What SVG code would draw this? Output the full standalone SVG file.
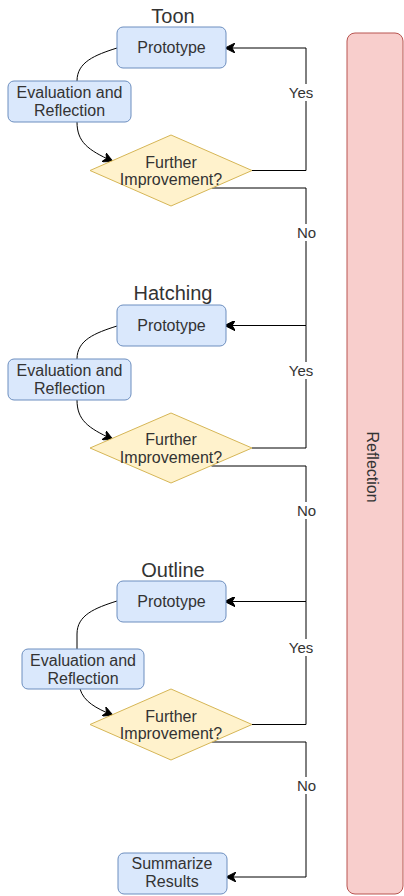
<svg xmlns="http://www.w3.org/2000/svg" width="404" height="896" viewBox="0 0 404 896">
  <style>
    .blue { fill: #dae8fc; stroke: #6c8ebf; stroke-width: 1; }
    .dec { fill: #fff2cc; stroke: #d6b656; stroke-width: 1; }
    .bar { fill: #f8cecc; stroke: #b85450; stroke-width: 1; }
    text { font-family: "Liberation Sans", Arial, sans-serif; fill: #333333; text-anchor: middle; }
    .t { font-size: 16px; }
    .title { font-size: 20px; }
    .lbl { font-size: 15px; }
    .edge { fill: none; stroke: #000000; stroke-width: 1; }
    .lblbg { fill: #ffffff; }
  </style>
  <defs>
    <marker id="arrow" viewBox="0 0 10 10" refX="9" refY="5" markerWidth="10" markerHeight="10" markerUnits="userSpaceOnUse" orient="auto">
      <path d="M0,0 L10,5 L0,10 L3,5 Z" fill="#000000" stroke="#000000" stroke-width="1"/>
    </marker>
  </defs>

  <!-- side bar -->
  <g id="reflection-bar">
    <rect class="bar" x="347" y="33" width="56" height="861" rx="8" ry="8"/>
    <text class="t" transform="translate(372,467) rotate(90)" y="5.5">Reflection</text>
  </g>

  <!-- section titles -->
  <g id="titles">
    <text class="title" x="173" y="23">Toon</text>
    <text class="title" x="173" y="300">Hatching</text>
    <text class="title" x="173" y="577">Outline</text>
  </g>

  <!-- connectors -->
  <g id="connectors">
    <!-- Toon -->
    <path class="edge" d="M117,48 C95,55 77,62 77,81"/>
    <path class="edge" d="M77,122 C77,142 88,150 112,161" marker-end="url(#arrow)"/>
    <path class="edge" d="M252,170.5 H306 V48 H226" marker-end="url(#arrow)"/>
    <path class="edge" d="M211.5,188 H306 V325.5 H226" marker-end="url(#arrow)"/>
    <!-- Hatching -->
    <path class="edge" d="M117,326 C95,333 77,340 77,359"/>
    <path class="edge" d="M77,400 C77,420 88,428 112,439" marker-end="url(#arrow)"/>
    <path class="edge" d="M252,448 H306 V325.5 H226" marker-end="url(#arrow)"/>
    <path class="edge" d="M211.5,466 H306 V601.5 H226" marker-end="url(#arrow)"/>
    <!-- Outline -->
    <path class="edge" d="M117,601 C95,608 77,615 77,634 V649"/>
    <path class="edge" d="M80,689 C84,702 96,708 112,715" marker-end="url(#arrow)"/>
    <path class="edge" d="M252,724.5 H306 V601.5 H226" marker-end="url(#arrow)"/>
    <path class="edge" d="M211.5,742 H306 V877 H227" marker-end="url(#arrow)"/>

    <!-- edge labels -->
    <rect class="lblbg" x="288" y="84" width="26" height="17"/>
    <text class="lbl" x="301" y="97.5">Yes</text>
    <rect class="lblbg" x="296" y="224" width="21" height="17"/>
    <text class="lbl" x="306.5" y="237.5">No</text>
    <rect class="lblbg" x="288" y="362" width="26" height="17"/>
    <text class="lbl" x="301" y="375.5">Yes</text>
    <rect class="lblbg" x="296" y="502" width="21" height="17"/>
    <text class="lbl" x="306.5" y="515.5">No</text>
    <rect class="lblbg" x="288" y="639" width="26" height="17"/>
    <text class="lbl" x="301" y="652.5">Yes</text>
    <rect class="lblbg" x="296" y="777" width="21" height="17"/>
    <text class="lbl" x="306.5" y="790.5">No</text>
  </g>

  <!-- Toon -->
  <g id="toon-prototype">
    <rect class="blue" x="117" y="27" width="109" height="41" rx="6" ry="6"/>
    <text class="t" x="171.5" y="53">Prototype</text>
  </g>
  <g id="toon-evaluation">
    <rect class="blue" x="8" y="81" width="123" height="41" rx="6" ry="6"/>
    <text class="t" x="69.5" y="98">Evaluation and</text>
    <text class="t" x="69.5" y="116">Reflection</text>
  </g>
  <g id="toon-decision">
    <polygon class="dec" points="171,135 252,170.5 171,206 90,170.5"/>
    <text class="t" x="171" y="167.5">Further</text>
    <text class="t" x="171" y="185">Improvement?</text>
  </g>

  <!-- Hatching -->
  <g id="hatching-prototype">
    <rect class="blue" x="117" y="305" width="109" height="41" rx="6" ry="6"/>
    <text class="t" x="171.5" y="331">Prototype</text>
  </g>
  <g id="hatching-evaluation">
    <rect class="blue" x="8" y="359" width="123" height="41" rx="6" ry="6"/>
    <text class="t" x="69.5" y="376">Evaluation and</text>
    <text class="t" x="69.5" y="394">Reflection</text>
  </g>
  <g id="hatching-decision">
    <polygon class="dec" points="171,413 252,448 171,483 90,448"/>
    <text class="t" x="171" y="445">Further</text>
    <text class="t" x="171" y="462.5">Improvement?</text>
  </g>

  <!-- Outline -->
  <g id="outline-prototype">
    <rect class="blue" x="117" y="581" width="109" height="41" rx="6" ry="6"/>
    <text class="t" x="171.5" y="607">Prototype</text>
  </g>
  <g id="outline-evaluation">
    <rect class="blue" x="22" y="649" width="122" height="40" rx="6" ry="6"/>
    <text class="t" x="83" y="665.5">Evaluation and</text>
    <text class="t" x="83" y="683.5">Reflection</text>
  </g>
  <g id="outline-decision">
    <polygon class="dec" points="171,689 252,724.5 171,760 90,724.5"/>
    <text class="t" x="171" y="721.5">Further</text>
    <text class="t" x="171" y="739">Improvement?</text>
  </g>

  <!-- final step -->
  <g id="summarize">
    <rect class="blue" x="118" y="853" width="109" height="41" rx="6" ry="6"/>
    <text class="t" x="172" y="869">Summarize</text>
    <text class="t" x="172" y="887">Results</text>
  </g>
</svg>
